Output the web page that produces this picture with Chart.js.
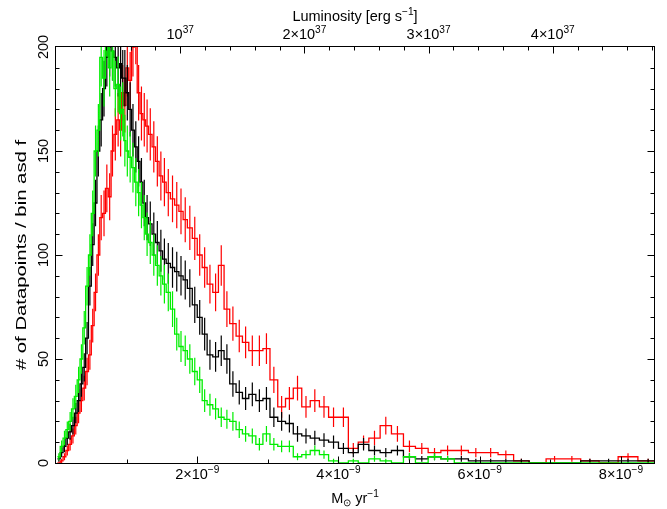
<!DOCTYPE html>
<html>
<head>
<meta charset="utf-8">
<script src="https://cdn.jsdelivr.net/npm/chart.js@4.4.1/dist/chart.umd.min.js"></script>
<style>
  html, body { margin: 0; padding: 0; background: #fff; }
  #wrap { width: 667px; height: 509px; }
</style>
</head>
<body>
<div id="wrap"><canvas id="hist"></canvas></div>
<script>
// bin edges, in units of 1e-9 Msun/yr
const binEdges = [0.02,0.06,0.10,0.14,0.18,0.22,0.26,0.30,0.34,0.38,0.42,0.46,0.50,0.54,0.58,0.62,0.66,0.70,0.74,0.78,0.82,0.86,
  0.90,0.93,0.96,0.99,1.03,1.07,1.11,1.15,1.19,1.23,1.27,1.31,1.36,1.41,1.46,1.51,1.56,1.62,1.68,1.74,1.80,1.86,1.93,2.00,
  2.07,2.14,2.22,2.30,2.38,2.46,2.55,2.64,2.73,2.83,2.93,3.03,3.14,3.25,3.36,3.48,3.60,3.73,3.86,4.00,4.14,4.28,4.43,4.59,
  4.75,4.92,5.09,5.27,5.45,5.64,5.84,6.05,6.26,6.48,6.70,6.94,7.18,7.43,7.69,7.96,8.24,8.53];

const greenCounts = [3,8,12,16,20,26,32,40,50,65,
  85,100,120,150,160,195,185,210,190,198,
  180,182,168,170,155,150,147,142,135,130,
  124,118,110,106,100,95,90,86,82,74,
  62,56,54,50,44,40,30,28,26,22,
  21,20,16,14,13,9,14,9,8,8,
  3,4,6,4,1,0,1,0,2,1,
  0,3,0,3,2,0,0,0,0,0,
  0,0,0,0,0,0,0];

const blackCounts = [2,5,8,12,15,18,24,30,38,46,
  60,85,105,125,150,165,180,195,200,198,
  195,190,192,185,185,178,170,160,152,145,
  135,125,118,115,110,106,102,98,96,94,
  92,90,88,84,76,70,62,52,51,54,
  50,38,34,31,33,30,31,22,20,19,
  14,13,12,11,10,7,5,9,6,5,
  6,3,2,3,2,2,1,1,1,1,
  0,0,0,1,1,1,1];

const redCounts = [0,1,3,6,9,13,18,24,30,36,
  44,52,66,82,100,118,120,132,128,150,
  158,165,160,178,172,190,184,200,206,178,
  168,165,162,158,152,145,138,135,130,127,
  124,121,117,113,108,100,94,86,82,95,
  74,67,61,58,54,54,55,40,27,31,
  36,27,30,27,22,22,7,10,12,18,
  14,8,7,5,6,6,5,5,4,1,
  0,2,2,1,0,3,1];

const xMax = 8.468;           // 1e-9 Msun/yr at right edge
const lumMax = 4.815;         // 1e37 erg/s at right edge
const xMajorTicks = [2, 4, 6, 8];
const xTickLabels = [['2×10', '−9'], ['4×10', '−9'], ['6×10', '−9'], ['8×10', '−9']];
const xMinorTicks = [1, 3, 5, 7];
const lumMajorTicks = [1, 2, 3, 4];
const lumTickLabels = [['10', '37'], ['2×10', '37'], ['3×10', '37'], ['4×10', '37']];
const yMajorTicks = [0, 50, 100, 150, 200];
const yTickLabels = ['0', '50', '100', '150', '200'];

const FAM = "'Liberation Sans', Arial, Helvetica, sans-serif";

function stepPoints(counts) {
  const pts = counts.map((c, i) => ({ x: binEdges[i], y: c }));
  pts.push({ x: binEdges[binEdges.length - 1], y: counts[counts.length - 1] });
  return pts;
}

function errPoints(counts) {
  const pts = [];
  counts.forEach((c, i) => {
    if (c <= 0) return;
    const xc = (binEdges[i] + binEdges[i + 1]) / 2;
    const e = Math.sqrt(c);
    pts.push({ x: xc, y: c - e }, { x: xc, y: c + e }, { x: xc, y: null });
  });
  return pts;
}

function stepSet(counts, color) {
  return { data: stepPoints(counts), borderColor: color, borderWidth: 1.3, stepped: true, pointRadius: 0, fill: false };
}
function errSet(counts, color) {
  return { data: errPoints(counts), borderColor: color, borderWidth: 1.2, pointRadius: 0, fill: false, spanGaps: false };
}

// rich text: parts = [[text, kind]], kind 0 normal, 1 superscript, 2 subscript
function drawRich(ctx, parts, x, y, size, rot, stretch) {
  const small = size * 0.7;
  let w = 0;
  const widths = parts.map(([t, k]) => {
    ctx.font = (k ? small : size) + 'px ' + FAM;
    const m = ctx.measureText(t).width;
    w += m;
    return m;
  });
  ctx.save();
  ctx.translate(x, y);
  if (rot) ctx.rotate(rot);
  if (stretch) ctx.scale(stretch, 1);
  ctx.textAlign = 'left';
  ctx.textBaseline = 'alphabetic';
  ctx.fillStyle = '#000';
  let cx = -w / 2;
  parts.forEach(([t, k], i) => {
    ctx.font = (k ? small : size) + 'px ' + FAM;
    const dy = k === 1 ? -size * 0.4 : k === 2 ? size * 0.22 : 0;
    ctx.fillText(t, cx, dy);
    cx += widths[i];
  });
  ctx.restore();
}

const frame = {
  id: 'frame',
  afterDatasetsDraw(chart) {
    const { ctx, chartArea: a, scales } = chart;
    const L = Math.round(a.left) - 0.5, R = Math.round(a.right) + 0.5;
    const T = Math.round(a.top) - 0.5, B = Math.round(a.bottom) + 0.5;
    ctx.save();
    ctx.strokeStyle = '#000';
    ctx.lineWidth = 1;
    ctx.strokeRect(L, T, R - L, B - T);

    const line = (x1, y1, x2, y2) => { ctx.beginPath(); ctx.moveTo(x1, y1); ctx.lineTo(x2, y2); ctx.stroke(); };
    const px = v => Math.round(scales.x.getPixelForValue(v)) + 0.5;
    const pl = v => Math.round(scales.x2.getPixelForValue(v)) + 0.5;
    const py = v => Math.round(scales.y.getPixelForValue(v)) + 0.5;

    xMajorTicks.forEach(v => line(px(v), B, px(v), B - 7));
    xMinorTicks.forEach(v => line(px(v), B, px(v), B - 4));
    for (let v = 0.2; v < lumMax; v += 0.2) {
      const major = Math.abs(v - Math.round(v)) < 1e-6;
      line(pl(v), T, pl(v), T + (major ? 7 : 4));
    }
    for (let v = 10; v < 200; v += 10) {
      const len = v % 50 === 0 ? 7 : 4;
      line(L, py(v), L + len, py(v));
      line(R, py(v), R - len, py(v));
    }

    // tick labels
    xMajorTicks.forEach((v, i) => drawRich(ctx, [[xTickLabels[i][0], 0], [xTickLabels[i][1], 1]], scales.x.getPixelForValue(v), 479, 14.5));
    lumMajorTicks.forEach((v, i) => drawRich(ctx, [[lumTickLabels[i][0], 0], [lumTickLabels[i][1], 1]], scales.x2.getPixelForValue(v), 39, 14.5));
    yMajorTicks.forEach((v, i) => drawRich(ctx, [[yTickLabels[i], 0]], 48, scales.y.getPixelForValue(v), 14.5, -Math.PI / 2));

    // titles
    drawRich(ctx, [['Luminosity [erg s', 0], ['−1', 1], [']', 0]], (a.left + a.right) / 2, 21, 14.5);
    drawRich(ctx, [['M', 0], ['⊙', 2], [' yr', 0], ['−1', 1]], (a.left + a.right) / 2, 503, 14.5);
    drawRich(ctx, [['# of Datapoints / bin asd f', 0]], 26, (a.top + a.bottom) / 2, 14, -Math.PI / 2, 1.45);
    ctx.restore();
  }
};

const GREEN = '#00ee00', BLACK = '#000000', RED = '#ff0000';

new Chart(document.getElementById('hist'), {
  type: 'line',
  data: {
    datasets: [
      stepSet(greenCounts, GREEN),
      errSet(greenCounts, GREEN),
      stepSet(blackCounts, BLACK),
      errSet(blackCounts, BLACK),
      stepSet(redCounts, RED),
      errSet(redCounts, RED),
    ],
  },
  plugins: [frame],
  options: {
    responsive: true,
    maintainAspectRatio: false,
    animation: false,
    events: [],
    layout: { padding: { left: 56, right: 13, top: 47, bottom: 46 } },
    plugins: {
      legend: { display: false },
      tooltip: { enabled: false },
    },
    scales: {
      x: { type: 'linear', position: 'bottom', min: 0, max: xMax, display: false },
      x2: { type: 'linear', position: 'top', min: 0, max: lumMax, display: false },
      y: { type: 'linear', min: 0, max: 200, display: false },
    },
  },
});
</script>
</body>
</html>
